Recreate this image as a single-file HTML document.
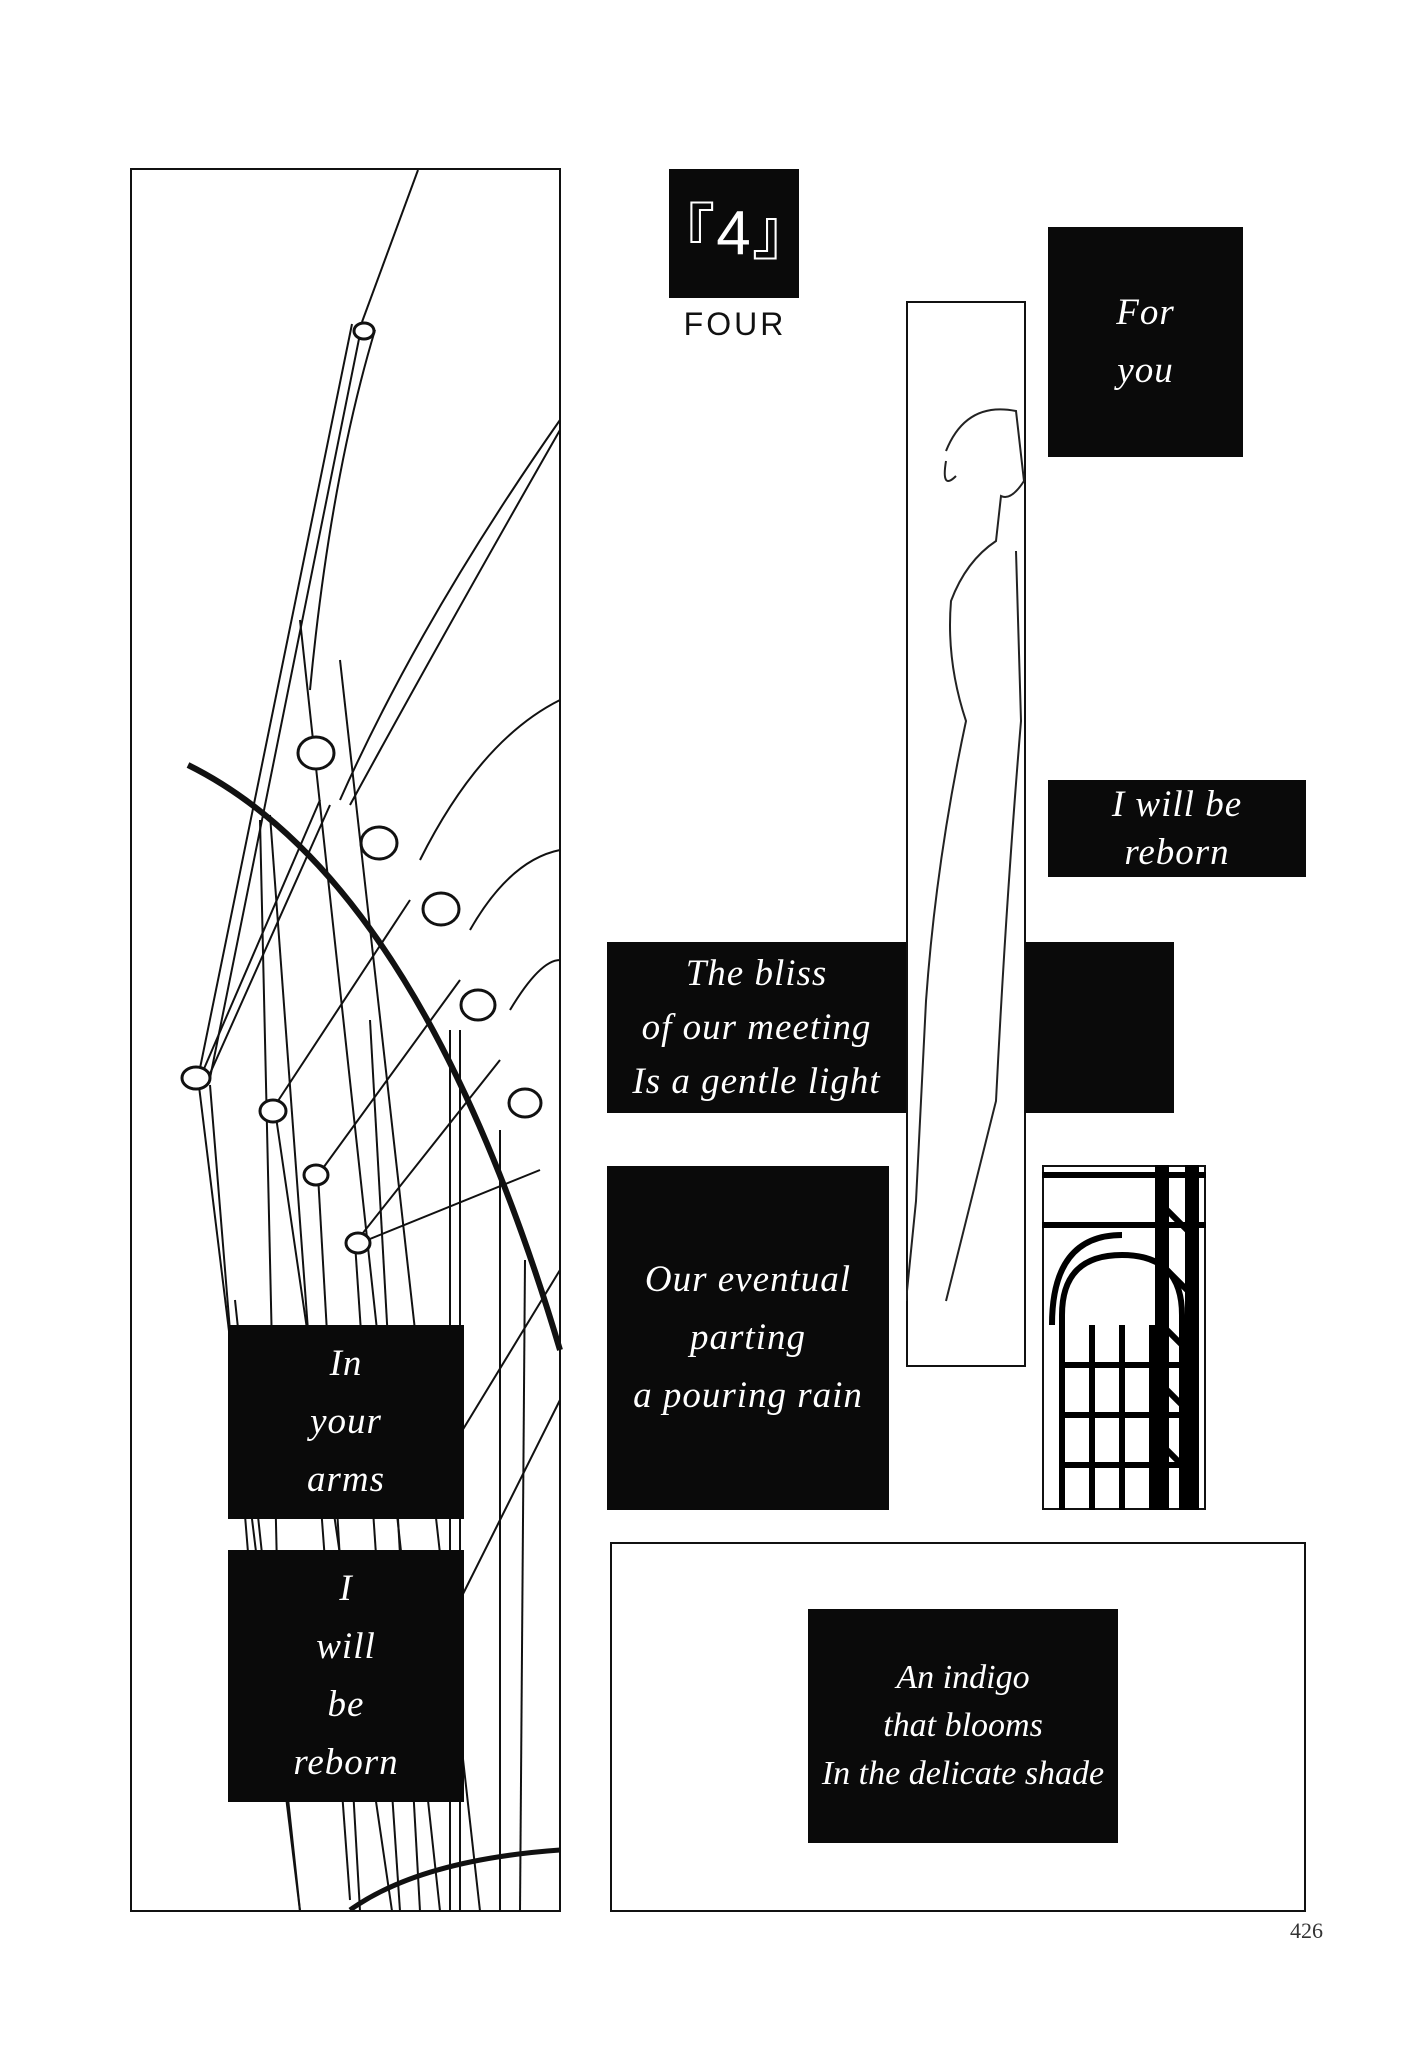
<!DOCTYPE html>
<html><head><meta charset="utf-8"><style>
body{margin:0;background:#fff;}
.p{position:absolute;width:1427px;height:2048px;left:0;top:0;background:#fff;overflow:hidden}
.b{position:absolute;background:#0a0a0a;color:#fff;font-family:"Liberation Serif",serif;font-style:italic;font-size:37px;line-height:58px;text-align:center;display:flex;flex-direction:column;justify-content:center;letter-spacing:1px}
.f{position:absolute;border:2px solid #111;box-sizing:border-box;background:#fff}
</style></head><body><div class="p">
<div class="f" style="left:130px;top:168px;width:431px;height:1744px"></div>
<svg style="position:absolute;left:0;top:0" width="1427" height="2048" fill="none" stroke="#111">
<g stroke-width="2">
<path d="M418 170 L362 322"/><path d="M352 324 L198 1078"/><path d="M362 324 L210 1078"/>
<path d="M310 690 Q330 480 375 330"/>
<path d="M198 1078 L300 1911"/><path d="M210 1085 L260 1700"/>
<path d="M200 1078 L320 800"/><path d="M208 1078 L330 805"/>
<path d="M340 800 Q420 620 560 420"/><path d="M350 805 Q440 640 560 430"/>
<path d="M420 860 Q480 740 560 700"/><path d="M470 930 Q510 860 560 850"/>
<path d="M510 1010 Q540 960 560 960"/>
<path d="M260 820 L280 1700"/><path d="M270 815 L350 1900"/>
<path d="M275 1110 L392 1911"/><path d="M318 1175 L360 1911"/><path d="M355 1243 L400 1911"/>
<path d="M370 1020 L420 1911"/><path d="M450 1030 L450 1911"/><path d="M460 1030 L460 1911"/>
<path d="M500 1130 L500 1911"/><path d="M525 1260 L520 1911"/>
<path d="M272 1110 L410 900"/><path d="M318 1175 L460 980"/><path d="M355 1243 L500 1060"/>
<path d="M360 1243 L540 1170"/><path d="M420 1500 L560 1270"/><path d="M460 1600 L560 1400"/>
<path d="M300 620 L440 1911"/><path d="M340 660 L480 1911"/>
<path d="M235 1300 L300 1911"/>
</g>
<path d="M188 765 Q420 880 560 1350" stroke-width="6"/>
<path d="M350 1910 Q420 1860 560 1850" stroke-width="5"/>
<g stroke-width="3" fill="#fff">
<ellipse cx="316" cy="753" rx="18" ry="16"/><ellipse cx="379" cy="843" rx="18" ry="16"/>
<ellipse cx="441" cy="909" rx="18" ry="16"/><ellipse cx="478" cy="1005" rx="17" ry="15"/>
<ellipse cx="525" cy="1103" rx="16" ry="14"/><ellipse cx="196" cy="1078" rx="14" ry="11"/>
<ellipse cx="273" cy="1111" rx="13" ry="11"/><ellipse cx="316" cy="1175" rx="12" ry="10"/>
<ellipse cx="358" cy="1243" rx="12" ry="10"/><ellipse cx="364" cy="331" rx="10" ry="8"/>
</g>
</svg>
<div class="b" style="left:669px;top:169px;width:130px;height:129px;font-style:normal;font-family:'Liberation Sans','Noto Sans CJK JP',sans-serif;font-size:62px;flex-direction:row;align-items:center;justify-content:center">『4』</div>
<div style="position:absolute;left:669px;top:306px;width:132px;text-align:center;font-family:'Liberation Sans',sans-serif;font-size:32px;letter-spacing:3px;color:#111">FOUR</div>
<div class="f" style="left:906px;top:301px;width:120px;height:1066px"></div>
<svg style="position:absolute;left:906px;top:301px" width="120" height="1066" fill="none" stroke="#222" stroke-width="2">
<path d="M40 150 Q60 100 110 110 L118 180 Q105 200 95 195 L90 240 Q60 260 45 300 Q40 360 60 420 Q30 560 20 700 L10 900 L0 1000"/>
<path d="M110 250 L115 420 Q100 600 90 800 L40 1000"/>
<path d="M40 160 Q35 190 50 175"/>
</svg>
<div class="b" style="left:1048px;top:227px;width:195px;height:230px">For<br>you</div>
<div class="b" style="left:1048px;top:780px;width:258px;height:97px;line-height:48px">I will be<br>reborn</div>
<div class="b" style="left:607px;top:942px;width:299px;height:171px;line-height:54px">The bliss<br>of our meeting<br>Is a gentle light</div>
<div class="b" style="left:1025px;top:942px;width:149px;height:171px"></div>
<div class="b" style="left:607px;top:1166px;width:282px;height:344px">Our eventual<br>parting<br>a pouring rain</div>
<div class="f" style="left:1042px;top:1165px;width:164px;height:345px"></div>
<svg style="position:absolute;left:1042px;top:1165px" width="164" height="345" fill="none" stroke="#000" stroke-width="6">
<path d="M0 10 L164 10"/><path d="M0 60 L164 60"/><path d="M20 345 L20 150 Q20 90 80 90 Q140 90 140 150 L140 345"/>
<path d="M10 160 Q10 70 80 70"/><path d="M50 345 L50 160 M80 345 L80 160 M110 345 L110 160"/>
<path d="M20 200 L140 200 M20 250 L140 250 M20 300 L140 300"/>
<path d="M120 0 L120 345 M150 0 L150 345" stroke-width="14"/>
<path d="M120 40 L150 70 M120 100 L150 130 M120 160 L150 190 M120 220 L150 250 M120 280 L150 310"/>
</svg>
<div class="f" style="left:610px;top:1542px;width:696px;height:370px"></div>
<div class="b" style="left:808px;top:1609px;width:310px;height:234px;line-height:48px;font-size:34px;letter-spacing:0;white-space:nowrap">An indigo<br>that blooms<br>In the delicate shade</div>
<div class="b" style="left:228px;top:1325px;width:236px;height:194px">In<br>your<br>arms</div>
<div class="b" style="left:228px;top:1550px;width:236px;height:252px">I<br>will<br>be<br>reborn</div>
<div style="position:absolute;left:1290px;top:1918px;font-family:'Liberation Serif',serif;font-size:22px;color:#333">426</div>
</div></body></html>
